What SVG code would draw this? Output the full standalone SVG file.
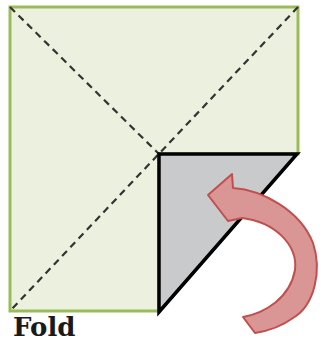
<svg xmlns="http://www.w3.org/2000/svg" width="322" height="343" viewBox="0 0 322 343">
<style>
.paper{fill:#ebf1de;stroke:#9bbb59;stroke-width:3;stroke-linejoin:miter}
.fold{fill:none;stroke:#333333;stroke-width:2.2;stroke-dasharray:7 5}
.flap{fill:#c9cacc;stroke:#000;stroke-width:3.5;stroke-linejoin:miter}
.arrow{fill:#d99694;stroke:#c0504d;stroke-width:2;stroke-linejoin:round}
.label{font-family:"DejaVu Serif",serif;font-weight:bold;font-size:26px;fill:#1a1a1a}
</style>
<rect width="322" height="343" fill="#ffffff"/>
<g id="paper">
<polygon class="paper" points="10,7 298,7 298,154 159,154 159,311 10,311"/>
</g>
<g id="connectors">
<line class="fold" x1="10" y1="7" x2="159" y2="154"/>
<line class="fold" x1="298" y1="7" x2="10" y2="311"/>
</g>
<g id="flap">
<polygon class="flap" points="159,154 297,154 159,312"/>
</g>
<g id="arrow">
<path class="arrow" d="M233,188 C262,190 300,210 313,243 C322,270 315,305 293,318 C282,326 268,331 255,333 L243,317 C265,313 290,298 295,270 C298,245 275,222 242,218 L228,221 L208,195 L232,174 Z"/>
</g>
<g id="caption">
<text class="label" x="13" y="336">Fold</text>
</g>
</svg>
